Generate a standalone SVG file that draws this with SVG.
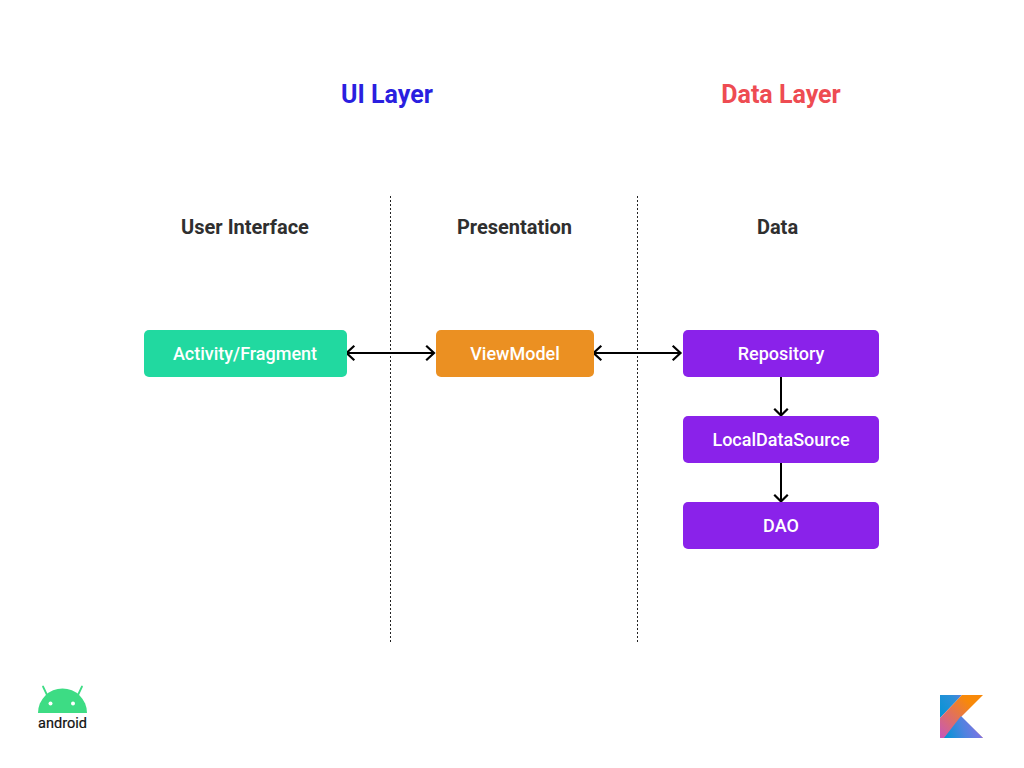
<svg xmlns="http://www.w3.org/2000/svg" width="1024" height="768" viewBox="0 0 1024 768">
<style>
text{font-family:Roboto,"Liberation Sans",sans-serif;text-anchor:middle}
.layer{font-size:25px;font-weight:700}
.head{font-size:20px;font-weight:700;fill:#2f2f2f}
.lbl{font-size:18px;font-weight:500;fill:#fff}
.div{stroke:#222;stroke-width:1;stroke-dasharray:2 2;fill:none}
.c{stroke:#000;stroke-width:2;fill:none}
.h{stroke:#000;stroke-width:2.200;fill:none;stroke-linecap:square}
.p{fill:#8a22ea}
</style>
<defs>
<linearGradient id="k1" gradientUnits="userSpaceOnUse" x1="940" y1="738" x2="983" y2="695"><stop offset="0" stop-color="#c757bc"/><stop offset="0.4" stop-color="#e0705f"/><stop offset="0.75" stop-color="#f88909"/></linearGradient>
<linearGradient id="k2" gradientUnits="userSpaceOnUse" x1="940" y1="720" x2="972" y2="695"><stop offset="0" stop-color="#0095d5"/><stop offset="0.6" stop-color="#2e8fd8"/><stop offset="1" stop-color="#8a70e5"/></linearGradient>
<linearGradient id="k3" gradientUnits="userSpaceOnUse" x1="945" y1="738" x2="983" y2="725"><stop offset="0" stop-color="#0095d5"/><stop offset="0.5" stop-color="#4f83df"/><stop offset="1" stop-color="#8a70e5"/></linearGradient>
</defs>
<rect width="1024" height="768" fill="#fff"/>
<g id="titles">
<text class="layer" x="387" y="102.500" fill="#2a1fe0">UI Layer</text>
<text class="layer" x="781" y="102.500" fill="#ee4c52">Data Layer</text>
<text class="head" x="245" y="234">User Interface</text>
<text class="head" x="514.500" y="234">Presentation</text>
<text class="head" x="777.500" y="234">Data</text>
</g>
<g id="dividers">
<line class="div" x1="390.500" y1="196" x2="390.500" y2="643"/>
<line class="div" x1="637.500" y1="196" x2="637.500" y2="643"/>
</g>
<g id="connectors">
<path class="c" d="M347 353H433.500"/><path class="h" d="M353.500 346.500L346.500 353L353.500 359.500M427 346.500L434 353L427 359.500"/>
<path class="c" d="M594 353H680"/><path class="h" d="M600.500 346.500L593.500 353L600.500 359.500M673.500 346.500L680.500 353L673.500 359.500"/>
<path class="c" d="M781 377V415"/><path class="h" d="M775 409.500L781 415.500L787 409.500"/>
<path class="c" d="M781 463V501"/><path class="h" d="M775 495.500L781 501.500L787 495.500"/>
</g>
<g id="activity-fragment"><rect x="144" y="330" width="203" height="47" rx="5" fill="#21d9a0"/><text class="lbl" x="245" y="360">Activity/Fragment</text></g>
<g id="viewmodel"><rect x="436" y="330" width="158" height="47" rx="5" fill="#eb9022"/><text class="lbl" x="515" y="360">ViewModel</text></g>
<g id="repository"><rect class="p" x="683" y="330" width="196" height="47" rx="5"/><text class="lbl" x="781" y="360">Repository</text></g>
<g id="localdatasource"><rect class="p" x="683" y="416" width="196" height="47" rx="5"/><text class="lbl" x="781" y="446">LocalDataSource</text></g>
<g id="dao"><rect class="p" x="683" y="502" width="196" height="47" rx="5"/><text class="lbl" x="781" y="532">DAO</text></g>
<g id="android-logo">
<path d="M38 713A24.500 24.500 0 0 1 87 713Z" fill="#3ddc84"/>
<path d="M47 695L43 686.500M78 695L82 686.500" stroke="#3ddc84" stroke-width="1.800" stroke-linecap="round" fill="none"/>
<circle cx="50.500" cy="703.500" r="2" fill="#fff"/><circle cx="73" cy="703.500" r="2" fill="#fff"/>
<text x="62.500" y="728" font-size="14.500" font-weight="400" fill="#111" stroke="#111" stroke-width="0.200">android</text>
</g>
<g id="kotlin-logo">
<polygon points="940,695 962,695 940,718" fill="url(#k2)"/>
<polygon points="962,695 983,695 961,717 983,738 940,738 940,718" fill="url(#k1)"/>
<polygon points="961,716 983,738 944,738" fill="url(#k3)"/>
</g>
</svg>
